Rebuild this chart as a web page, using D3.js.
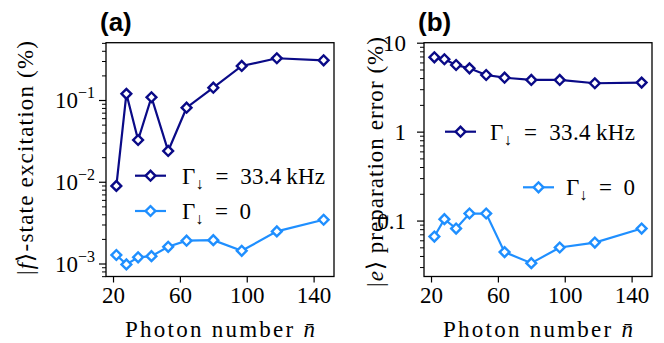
<!DOCTYPE html>
<html>
<head>
<meta charset="utf-8">
<script src="https://cdn.jsdelivr.net/npm/d3@7"></script>
<style>
  html, body { margin: 0; padding: 0; background: #fff; }
  svg { display: block; }
</style>
</head>
<body>
<svg id="chart" width="664" height="343"></svg>
<script>
// Mean photon number of the readout pulse
const nbar = [22, 28, 35, 43, 53, 64, 80, 97, 118, 146];

// (a) |f>-state excitation in %
const fExcDecay   = [0.0089, 0.119, 0.0324, 0.108, 0.0238, 0.0805, 0.1415, 0.261, 0.324, 0.306];
const fExcNoDecay = [0.00127, 0.000975, 0.00119, 0.00123, 0.0016, 0.0019, 0.00193, 0.00143, 0.00247, 0.00343];

// (b) |e> preparation error in %
const eErrDecay   = [6.85, 6.51, 5.61, 5.15, 4.33, 4.04, 3.81, 3.81, 3.50, 3.56];
const eErrNoDecay = [0.0661, 0.1037, 0.0813, 0.120, 0.120, 0.0442, 0.0332, 0.0498, 0.0566, 0.0813];

const xTicks = [20, 60, 100, 140];
const yTicksA = [1e-3, 1e-2, 1e-1];
const yTicksB = [0.1, 1, 10];
const yTickTextB = ["0.1", "1", "10"];

const colDecay = "#0a0a87";
const colNoDecay = "#1f8fff";
const SERIF = "'Liberation Serif'";
const FS = 23;

const svg = d3.select("#chart");

function serifText(sel, size) {
  return sel.attr("font-family", null)
    .style("font-family", SERIF).style("font-size", (size || FS) + "px").attr("fill", "#000");
}

// minor ticks 2..9 per decade inside a log domain
function minorTicks(domain) {
  const out = [];
  const lo = Math.floor(Math.log10(domain[0])), hi = Math.ceil(Math.log10(domain[1]));
  for (let k = lo; k <= hi; k++) {
    for (let m = 2; m <= 9; m++) {
      const v = m * Math.pow(10, k);
      if (v >= domain[0] && v <= domain[1]) out.push(v);
    }
  }
  return out;
}

const TOP = 42.7, BOTTOM = 276.5;

function panel(opts) {
  const g = svg.append("g");
  const x = d3.scaleLinear().domain([15.8, 152.2]).range([opts.left, opts.right]);
  const y = d3.scaleLog().domain(opts.yDomain).range([BOTTOM, TOP]);

  // x axis
  const xa = g.append("g").attr("transform", `translate(0,${BOTTOM})`)
    .call(d3.axisBottom(x).tickValues(xTicks).tickSize(6).tickSizeOuter(0).tickPadding(4));
  xa.attr("font-family", null).attr("font-size", null);
  xa.select(".domain").remove();
  xa.selectAll(".tick line").attr("stroke", "#000").attr("stroke-width", 1.2);
  serifText(xa.selectAll(".tick text")).attr("dy", "0.71em");

  // y axis: minor ticks
  const ym = g.append("g").attr("transform", `translate(${opts.left},0)`)
    .call(d3.axisLeft(y).tickValues(minorTicks(opts.yDomain)).tickSize(4).tickSizeOuter(0).tickFormat(""));
  ym.select(".domain").remove();
  ym.selectAll(".tick line").attr("stroke", "#000").attr("stroke-width", 1);

  // y axis: major ticks
  const yM = g.append("g").attr("transform", `translate(${opts.left},0)`)
    .call(d3.axisLeft(y).tickValues(opts.yTicks).tickSize(7).tickSizeOuter(0).tickFormat(""));
  yM.attr("font-family", null).attr("font-size", null);
  yM.select(".domain").remove();
  yM.selectAll(".tick line").attr("stroke", "#000").attr("stroke-width", 1.2);
  yM.selectAll(".tick").each(function(d, i) {
    const t = serifText(d3.select(this).append("text"))
      .attr("x", opts.labelX).attr("y", 7.5).attr("text-anchor", "end");
    opts.tickLabel(t, d, i);
  });

  // frame
  g.append("rect").attr("x", opts.left).attr("y", TOP)
    .attr("width", opts.right - opts.left).attr("height", BOTTOM - TOP)
    .attr("fill", "none").attr("stroke", "#000").attr("stroke-width", 1.3);

  const line = d3.line().x((d, i) => x(nbar[i])).y(d => y(d));

  [[opts.s2, colNoDecay], [opts.s1, colDecay]].forEach(([vals, col]) => {
    g.append("path").datum(vals).attr("d", line)
      .attr("fill", "none").attr("stroke", col).attr("stroke-width", 2.2);
    g.selectAll(null).data(vals).enter().append("path")
      .attr("d", d3.symbol().type(d3.symbolSquare).size(48))
      .attr("transform", (d, i) => `translate(${x(nbar[i])},${y(d)}) rotate(45)`)
      .attr("fill", "#fff").attr("stroke", col).attr("stroke-width", 2.4);
  });

  // panel letter
  svg.append("text").attr("x", opts.left - 6).attr("y", 30.5)
    .style("font-family", "'Liberation Sans'")
    .style("font-weight", "bold").style("font-size", "26px").text(opts.letter);

  // x label
  const xl = serifText(svg.append("text"))
    .attr("x", (opts.left + opts.right) / 2).attr("y", 337).attr("text-anchor", "middle")
    .attr("textLength", 190).attr("lengthAdjust", "spacing");
  xl.append("tspan").text("Photon number ");
  xl.append("tspan").style("font-style", "italic").text("n\u0304");

  return { x, y };
}

function legendEntry(x0, yc, col, textX, valueText, len) {
  svg.append("line").attr("x1", x0).attr("x2", x0 + 31).attr("y1", yc).attr("y2", yc)
    .attr("stroke", col).attr("stroke-width", 2.2);
  svg.append("path").attr("d", d3.symbol().type(d3.symbolSquare).size(48))
    .attr("transform", `translate(${x0 + 15.5},${yc}) rotate(45)`)
    .attr("fill", "#fff").attr("stroke", col).attr("stroke-width", 2.4);
  const t = serifText(svg.append("text")).attr("x", textX).attr("y", yc + 8);
  t.append("tspan").text("\u0393");
  t.append("tspan").attr("dy", 5).style("font-size", "16px").text("\u2193");
  t.append("tspan").attr("dy", -5).text("\u2002=\u2002" + valueText);
  if (len) t.attr("textLength", len).attr("lengthAdjust", "spacing");
}

function powLabel(t, d) {
  const e = Math.round(Math.log10(d));
  t.append("tspan").text("10");
  t.append("tspan").attr("dy", -10).style("font-size", "16px").text("\u2212" + Math.abs(e));
}

panel({
  left: 106, right: 334, letter: "(a)", labelX: -11,
  yDomain: [Math.pow(10, -3.159), Math.pow(10, -0.299)], yTicks: yTicksA,
  tickLabel: powLabel, s1: fExcDecay, s2: fExcNoDecay
});

panel({
  left: 424, right: 652, letter: "(b)", labelX: -18,
  yDomain: [0.0235, 10], yTicks: yTicksB,
  tickLabel: (t, d, i) => t.text(yTickTextB[i]), s1: eErrDecay, s2: eErrNoDecay
});

// y labels
const yla = serifText(svg.append("text"))
  .attr("transform", "translate(33,158) rotate(-90)").attr("text-anchor", "middle")
  .attr("textLength", 234).attr("lengthAdjust", "spacing");
yla.append("tspan").text("|");
yla.append("tspan").style("font-style", "italic").text("f");
yla.append("tspan").text("\u27E9-state excitation (%)");

const ylb = serifText(svg.append("text"))
  .attr("transform", "translate(383,162) rotate(-90)").attr("text-anchor", "middle")
  .attr("textLength", 250).attr("lengthAdjust", "spacing");
ylb.append("tspan").text("|");
ylb.append("tspan").style("font-style", "italic").text("e");
ylb.append("tspan").text("\u27E9 preparation error (%)");

// legends
legendEntry(135, 175.7, colDecay, 182, "33.4\u2009kHz", 143);
legendEntry(135, 211, colNoDecay, 182, "0", 69);
legendEntry(445, 131.7, colDecay, 490, "33.4\u2009kHz", 145);
legendEntry(523, 187.3, colNoDecay, 566, "0", 69);
</script>
</body>
</html>
